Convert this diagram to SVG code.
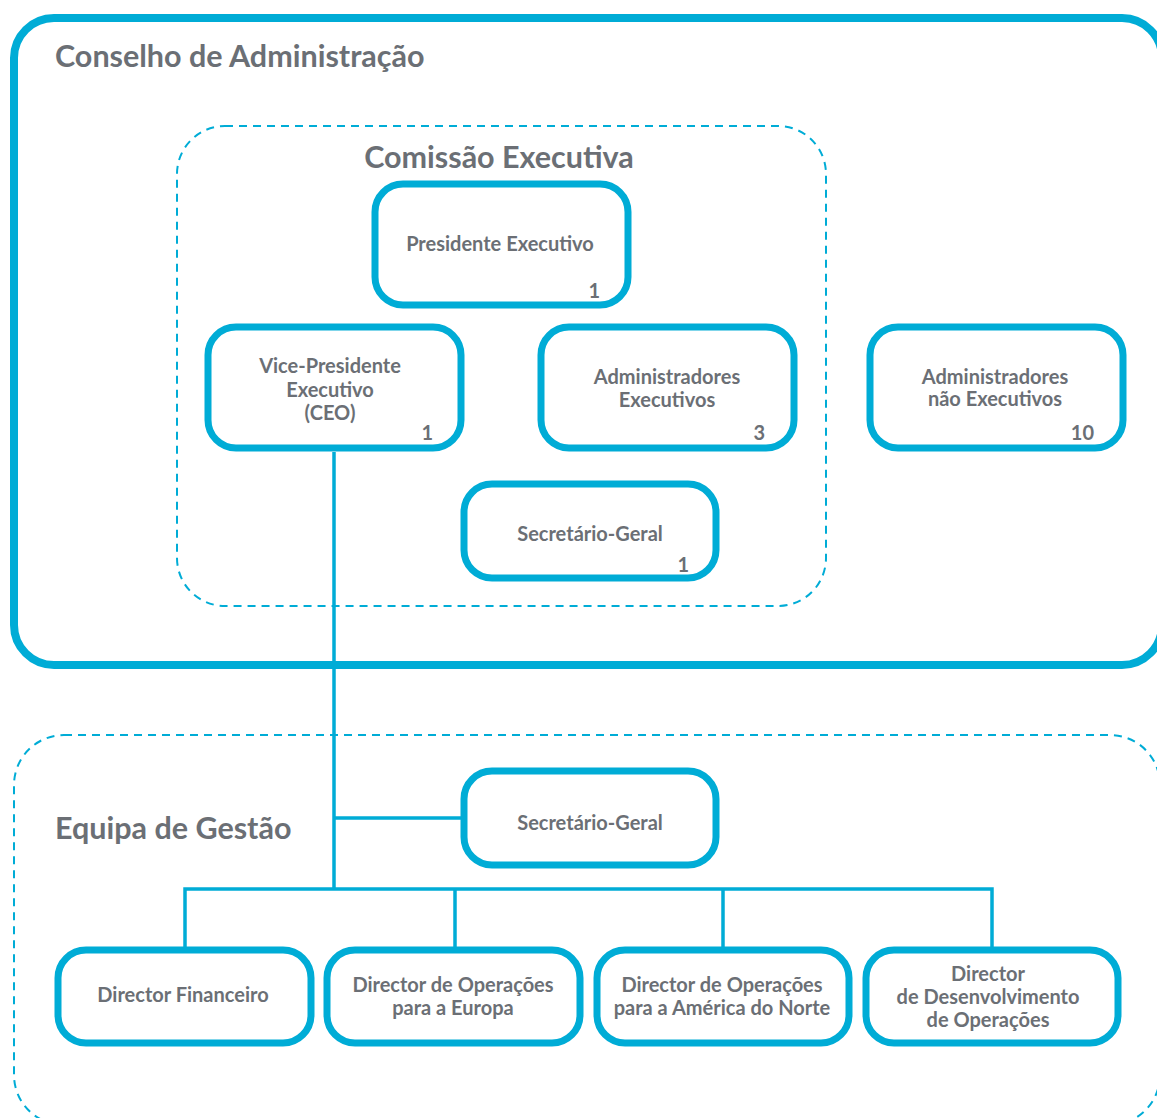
<svg xmlns="http://www.w3.org/2000/svg" width="1157" height="1118" viewBox="0 0 1157 1118">
<style>
.cont{fill:none;stroke:#00acd6;stroke-width:8}
.dash{fill:none;stroke:#00acd6;stroke-width:2;stroke-dasharray:8 6}
.box{fill:#fff;stroke:#00acd6;stroke-width:7}
.conn{fill:none;stroke:#00acd6;stroke-width:3.5}
text{font-family:Lato,"Liberation Sans",sans-serif;font-weight:bold;fill:#6b6f75}
.title{font-size:30.5px}
.lbl{font-size:20px;text-anchor:middle}
.num{font-size:20px;text-anchor:end}
</style>
<rect width="1157" height="1118" fill="#fff"/>
<g id="conselho">
<rect class="cont" x="14" y="18" width="1148" height="647" rx="40"/>
<text class="title" x="55" y="67">Conselho de Administração</text>
</g>
<g id="comissao">
<rect class="dash" x="177" y="126" width="649" height="480" rx="48"/>
<text class="title" x="499" y="168" text-anchor="middle">Comissão Executiva</text>
</g>
<g id="equipa">
<rect class="dash" x="14" y="735" width="1146" height="390" rx="50"/>
<text class="title" x="55" y="839">Equipa de Gestão</text>
</g>
<g id="connectors">
<path class="conn" d="M334 452V889M334 818H464M185 948V889H992V948M455 889V948M723 889V948"/>
</g>
<g id="presidente">
<rect class="box" x="375" y="184" width="253" height="121" rx="28"/>
<text class="lbl" x="500" y="251">Presidente Executivo</text>
<text class="num" x="600" y="298">1</text>
</g>
<g id="vice-presidente">
<rect class="box" x="208" y="327" width="253" height="121" rx="28"/>
<text class="lbl" x="330" y="373">Vice-Presidente</text>
<text class="lbl" x="330" y="397">Executivo</text>
<text class="lbl" x="330" y="420">(CEO)</text>
<text class="num" x="433" y="440">1</text>
</g>
<g id="admin-exec">
<rect class="box" x="541" y="327" width="253" height="121" rx="28"/>
<text class="lbl" x="667" y="384">Administradores</text>
<text class="lbl" x="667" y="407">Executivos</text>
<text class="num" x="765" y="440">3</text>
</g>
<g id="admin-nao-exec">
<rect class="box" x="870" y="327" width="253" height="121" rx="28"/>
<text class="lbl" x="995" y="384">Administradores</text>
<text class="lbl" x="995" y="406">não Executivos</text>
<text class="num" x="1094" y="440">10</text>
</g>
<g id="secretario-1">
<rect class="box" x="464" y="484" width="252" height="94" rx="28"/>
<text class="lbl" x="590" y="541">Secretário-Geral</text>
<text class="num" x="689" y="572">1</text>
</g>
<g id="secretario-2">
<rect class="box" x="464" y="771" width="252" height="94" rx="28"/>
<text class="lbl" x="590" y="830">Secretário-Geral</text>
</g>
<g id="dir-financeiro">
<rect class="box" x="58" y="950" width="253" height="93" rx="28"/>
<text class="lbl" x="183" y="1002">Director Financeiro</text>
</g>
<g id="dir-europa">
<rect class="box" x="327" y="950" width="253" height="93" rx="28"/>
<text class="lbl" x="453" y="992">Director de Operações</text>
<text class="lbl" x="453" y="1015">para a Europa</text>
</g>
<g id="dir-america">
<rect class="box" x="597" y="950" width="252" height="93" rx="28"/>
<text class="lbl" x="722" y="992">Director de Operações</text>
<text class="lbl" x="722" y="1015">para a América do Norte</text>
</g>
<g id="dir-desenvolvimento">
<rect class="box" x="866" y="950" width="252" height="93" rx="28"/>
<text class="lbl" x="988" y="981">Director</text>
<text class="lbl" x="988" y="1004">de Desenvolvimento</text>
<text class="lbl" x="988" y="1027">de Operações</text>
</g>
</svg>
